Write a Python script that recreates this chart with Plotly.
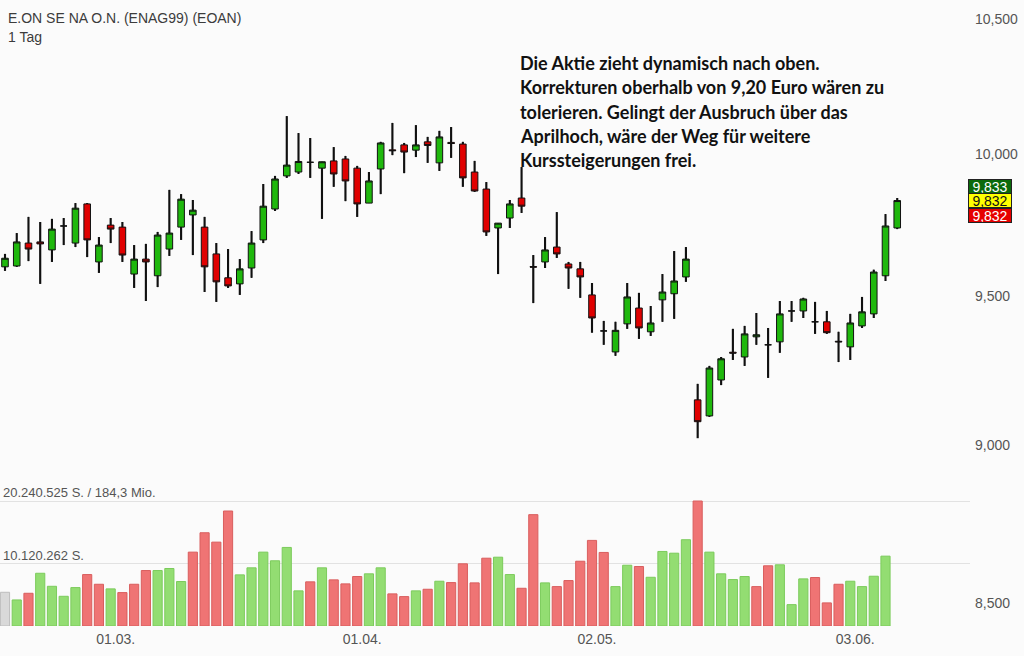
import numpy as np
import pandas as pd
import plotly.graph_objects as go

# ---------------- data ----------------
holidays = ["2019-04-19", "2019-04-22", "2019-05-01"]
dates = pd.bdate_range("2019-02-18", "2019-06-07", freq="C", holidays=holidays)

open_ = [9.600, 9.603, 9.683, 9.687, 9.659, 9.743, 9.683, 9.821, 9.617, 9.746,
         9.739, 9.575, 9.627, 9.569, 9.662, 9.739, 9.782, 9.739, 9.645, 9.562,
         9.541, 9.596, 9.694, 9.803, 9.921, 9.935, 9.970, 9.949, 9.975, 9.982,
         9.949, 9.824, 9.946, 10.015, 10.033, 10.014, 10.044, 9.968, 10.042, 10.036,
         9.935, 9.874, 9.736, 9.771, 9.842, 9.601, 9.617, 9.669, 9.610, 9.593,
         9.503, 9.380, 9.309, 9.404, 9.458, 9.377, 9.486, 9.507, 9.565, 9.149,
         9.096, 9.215, 9.308, 9.292, 9.360, 9.333, 9.343, 9.448, 9.448, 9.411,
         9.411, 9.345, 9.326, 9.397, 9.438, 9.569, 9.736]
high = [9.645, 9.718, 9.775, 9.757, 9.768, 9.771, 9.824, 9.824, 9.704, 9.771,
        9.757, 9.676, 9.680, 9.722, 9.871, 9.856, 9.835, 9.775, 9.683, 9.662,
        9.627, 9.725, 9.892, 9.921, 10.138, 10.076, 10.058, 9.972, 10.025, 9.993,
        9.957, 9.935, 10.044, 10.113, 10.040, 10.105, 10.062, 10.084, 10.098, 10.044,
        9.975, 9.899, 9.753, 9.835, 9.953, 9.641, 9.704, 9.792, 9.617, 9.617,
        9.544, 9.414, 9.411, 9.544, 9.510, 9.465, 9.575, 9.655, 9.669, 9.202,
        9.262, 9.292, 9.387, 9.397, 9.441, 9.390, 9.482, 9.482, 9.493, 9.479,
        9.448, 9.377, 9.438, 9.496, 9.590, 9.785, 9.842]
low = [9.586, 9.600, 9.620, 9.541, 9.617, 9.676, 9.669, 9.634, 9.579, 9.683,
       9.617, 9.527, 9.482, 9.530, 9.638, 9.694, 9.641, 9.513, 9.479, 9.527,
       9.503, 9.562, 9.683, 9.796, 9.914, 9.928, 9.914, 9.768, 9.882, 9.831,
       9.775, 9.824, 9.856, 9.996, 9.931, 9.989, 9.968, 9.939, 9.986, 9.882,
       9.864, 9.708, 9.575, 9.736, 9.789, 9.475, 9.596, 9.631, 9.524, 9.493,
       9.374, 9.333, 9.296, 9.387, 9.353, 9.363, 9.411, 9.421, 9.548, 9.009,
       9.093, 9.198, 9.282, 9.262, 9.333, 9.222, 9.306, 9.411, 9.424, 9.370,
       9.370, 9.275, 9.282, 9.390, 9.424, 9.551, 9.732]
close = [9.630, 9.687, 9.662, 9.680, 9.732, 9.743, 9.806, 9.694, 9.676, 9.732,
         9.641, 9.627, 9.617, 9.711, 9.718, 9.838, 9.799, 9.600, 9.548, 9.534,
         9.593, 9.683, 9.813, 9.910, 9.960, 9.973, 9.970, 9.972, 9.928, 9.903,
         9.821, 9.903, 10.040, 10.012, 10.007, 10.033, 10.031, 10.062, 10.038, 9.914,
         9.867, 9.722, 9.753, 9.821, 9.813, 9.599, 9.659, 9.645, 9.596, 9.565,
         9.424, 9.380, 9.382, 9.496, 9.390, 9.407, 9.513, 9.551, 9.627, 9.077,
         9.255, 9.286, 9.305, 9.370, 9.367, 9.333, 9.438, 9.448, 9.489, 9.411,
         9.374, 9.343, 9.407, 9.445, 9.582, 9.743, 9.833]
volume = [5460000, 4220000, 5300000, 8540000, 6430000, 4810000, 6220000, 8330000, 6760000, 6010000,
          5410000, 6760000, 8980000, 8980000, 9310000, 7200000, 11960000, 15100000, 13580000, 18620000,
          8280000, 9420000, 11960000, 10560000, 12720000, 5690000, 7150000, 9420000, 7470000, 6820000,
          8010000, 8450000, 9420000, 5200000, 4760000, 5690000, 5950000, 7250000, 7030000, 10070000,
          6980000, 10980000, 11140000, 8330000, 6110000, 18030000, 6980000, 6380000, 7360000, 10490000,
          13860000, 11910000, 6380000, 9840000, 9630000, 7890000, 12070000, 11790000, 13970000, 20240525,
          11960000, 8450000, 7520000, 8010000, 6380000, 9750000, 9910000, 3460000, 7630000, 7850000,
          3740000, 6760000, 7250000, 6380000, 8060000, 11310000, None]

tick_dates = ["2019-03-01", "2019-04-01", "2019-05-02", "2019-06-03"]
price_ticks = [8.5, 9.0, 9.5, 10.0, 10.5]
price_ticktext = ["8,500", "9,000", "9,500", "10,000", "10,500"]
title_lines = ["E.ON SE NA O.N. (ENAG99) (EOAN)", "1 Tag"]
turnover_text = "184,3 Mio."
badge_texts = ["9,833", "9,832", "9,832"]
comment_lines = [
    "Die Aktie zieht dynamisch nach oben.",
    "Korrekturen oberhalb von 9,20 Euro wären zu",
    "tolerieren. Gelingt der Ausbruch über das",
    "Aprilhoch, wäre der Weg für weitere",
    "Kurssteigerungen frei.",
]

# ---------------- geometry ----------------
W, H = 1024, 656
ML, MR, MT, MB = 0, 54, 0, 30
PW, PH = W - ML - MR, H - MT - MB
pitch = 11.74           # px per trading day
first_px = 5.0          # px centre of first candle
y10_px = 154.0          # px of price 10.0 from top
px_per_decade = 6365.0
vol_top_px = 125.0      # px height of the max volume bar
vol_dom = 0.3

n = len(close)
x = np.arange(n)
date_str = [d.strftime("%Y-%m-%d") for d in dates]
tickvals = [date_str.index(d) for d in tick_dates]
ticktext = [pd.Timestamp(d).strftime("%d.%m.") for d in tick_dates]

GREEN_V, GREEN_VL = "#93dd72", "#7ccb5c"
RED_V, RED_VL = "#ef7474", "#d95e5e"
GREY_V, GREY_VL = "#d9d9d9", "#bdbdbd"
vcol, vline = [], []
for i in range(n):
    if i == 0:
        vcol.append(GREY_V); vline.append(GREY_VL)
    elif close[i] >= close[i - 1]:
        vcol.append(GREEN_V); vline.append(GREEN_VL)
    else:
        vcol.append(RED_V); vline.append(RED_VL)

vmax = max(v for v in volume if v is not None)
vol_grid = [vmax // 2, vmax]
fmt = lambda v: f"{v:,}".replace(",", ".")
vol_labels = [fmt(vmax // 2) + " S.", fmt(vmax) + " S. / " + turnover_text]

fig = go.Figure()

# wicks (bar layer sits below the candle bodies)
fig.add_trace(go.Bar(
    x=x, y=[h - l for h, l in zip(high, low)], base=low, width=0.18,
    marker=dict(color="#111111", line=dict(width=0)), yaxis="y", hoverinfo="skip",
    showlegend=False))

fig.add_trace(go.Candlestick(
    x=x, open=open_, high=high, low=low, close=close,
    increasing=dict(fillcolor="#1fb80d", line=dict(color="#111111", width=1)),
    decreasing=dict(fillcolor="#e00000", line=dict(color="#111111", width=1)),
    whiskerwidth=0, showlegend=False, yaxis="y"))

fig.add_trace(go.Bar(
    x=x, y=volume, width=0.78, yaxis="y2",
    marker=dict(color=vcol, line=dict(color=vline, width=1)),
    showlegend=False))

log_top = 1 + y10_px / px_per_decade
log_bot = 1 - (PH - y10_px) / px_per_decade

fig.update_layout(
    width=W, height=H,
    margin=dict(l=ML, r=MR, t=MT, b=MB),
    paper_bgcolor="#fbfbfb", plot_bgcolor="#fbfbfb",
    barmode="overlay", boxgap=0.2,
    font=dict(family="Liberation Sans, Arial, sans-serif", color="#555555", size=14),
    xaxis=dict(range=[-first_px / pitch, (PW - first_px) / pitch],
               tickvals=tickvals, ticktext=ticktext, ticks="", showgrid=False,
               zeroline=False, showline=False, rangeslider=dict(visible=False),
               ticklabelshift=5, ticklabelstandoff=3,
               tickfont=dict(size=14, color="#555555")),
    yaxis=dict(type="log", side="right", range=[log_bot, log_top],
               tickvals=price_ticks, ticktext=price_ticktext, ticks="",
               showgrid=False, zeroline=False, showline=False,
               ticklabelstandoff=4, tickfont=dict(size=14, color="#555555")),
    yaxis2=dict(domain=[0, vol_dom], anchor="x",
                range=[0, vmax * vol_dom * PH / vol_top_px],
                tickvals=vol_grid, showticklabels=False, ticks="",
                showgrid=True, gridcolor="#e2e2e2", gridwidth=1,
                zeroline=False, showline=False),
    hovermode=False,
)

ann = []
# title lines
for k, t in enumerate(title_lines):
    ann.append(dict(text=t, xref="paper", yref="paper", x=6 / PW,
                    y=1 - (18 + 19 * k) / PH, xanchor="left", yanchor="middle",
                    showarrow=False, font=dict(size=14, color="#3c3c3c")))
# volume grid labels
for v, t in zip(vol_grid, vol_labels):
    ann.append(dict(text=t, xref="paper", yref="y2", x=1 / PW, y=v,
                    xanchor="left", yanchor="bottom", showarrow=False, yshift=-1,
                    font=dict(size=13, color="#555555")))
# comment block
for k, t in enumerate(comment_lines):
    ann.append(dict(text="<b>" + t + "</b>", xref="paper", yref="paper",
                    x=518 / PW, y=1 - (63 + 24.3 * k) / PH,
                    xanchor="left", yanchor="middle", showarrow=False,
                    font=dict(family="Lato, sans-serif", size=18, color="#111111")))
# price badges
badge_style = [("#0b6a0b", "#ffffff"), ("#ffff00", "#111111"), ("#e60000", "#ffffff")]
for k, (t, (bg, fc)) in enumerate(zip(badge_texts, badge_style)):
    ann.append(dict(text=t, xref="paper", yref="y", x=1.0,
                    y=np.log10(close[-1]), xanchor="left", yanchor="middle",
                    xshift=-2, yshift=(1 - k) * 14.5, showarrow=False,
                    bgcolor=bg, bordercolor="#222222", borderwidth=1, borderpad=0,
                    width=42, height=13,
                    font=dict(size=14, color=fc)))
fig.update_layout(annotations=ann)

fig.write_html("out.html")
